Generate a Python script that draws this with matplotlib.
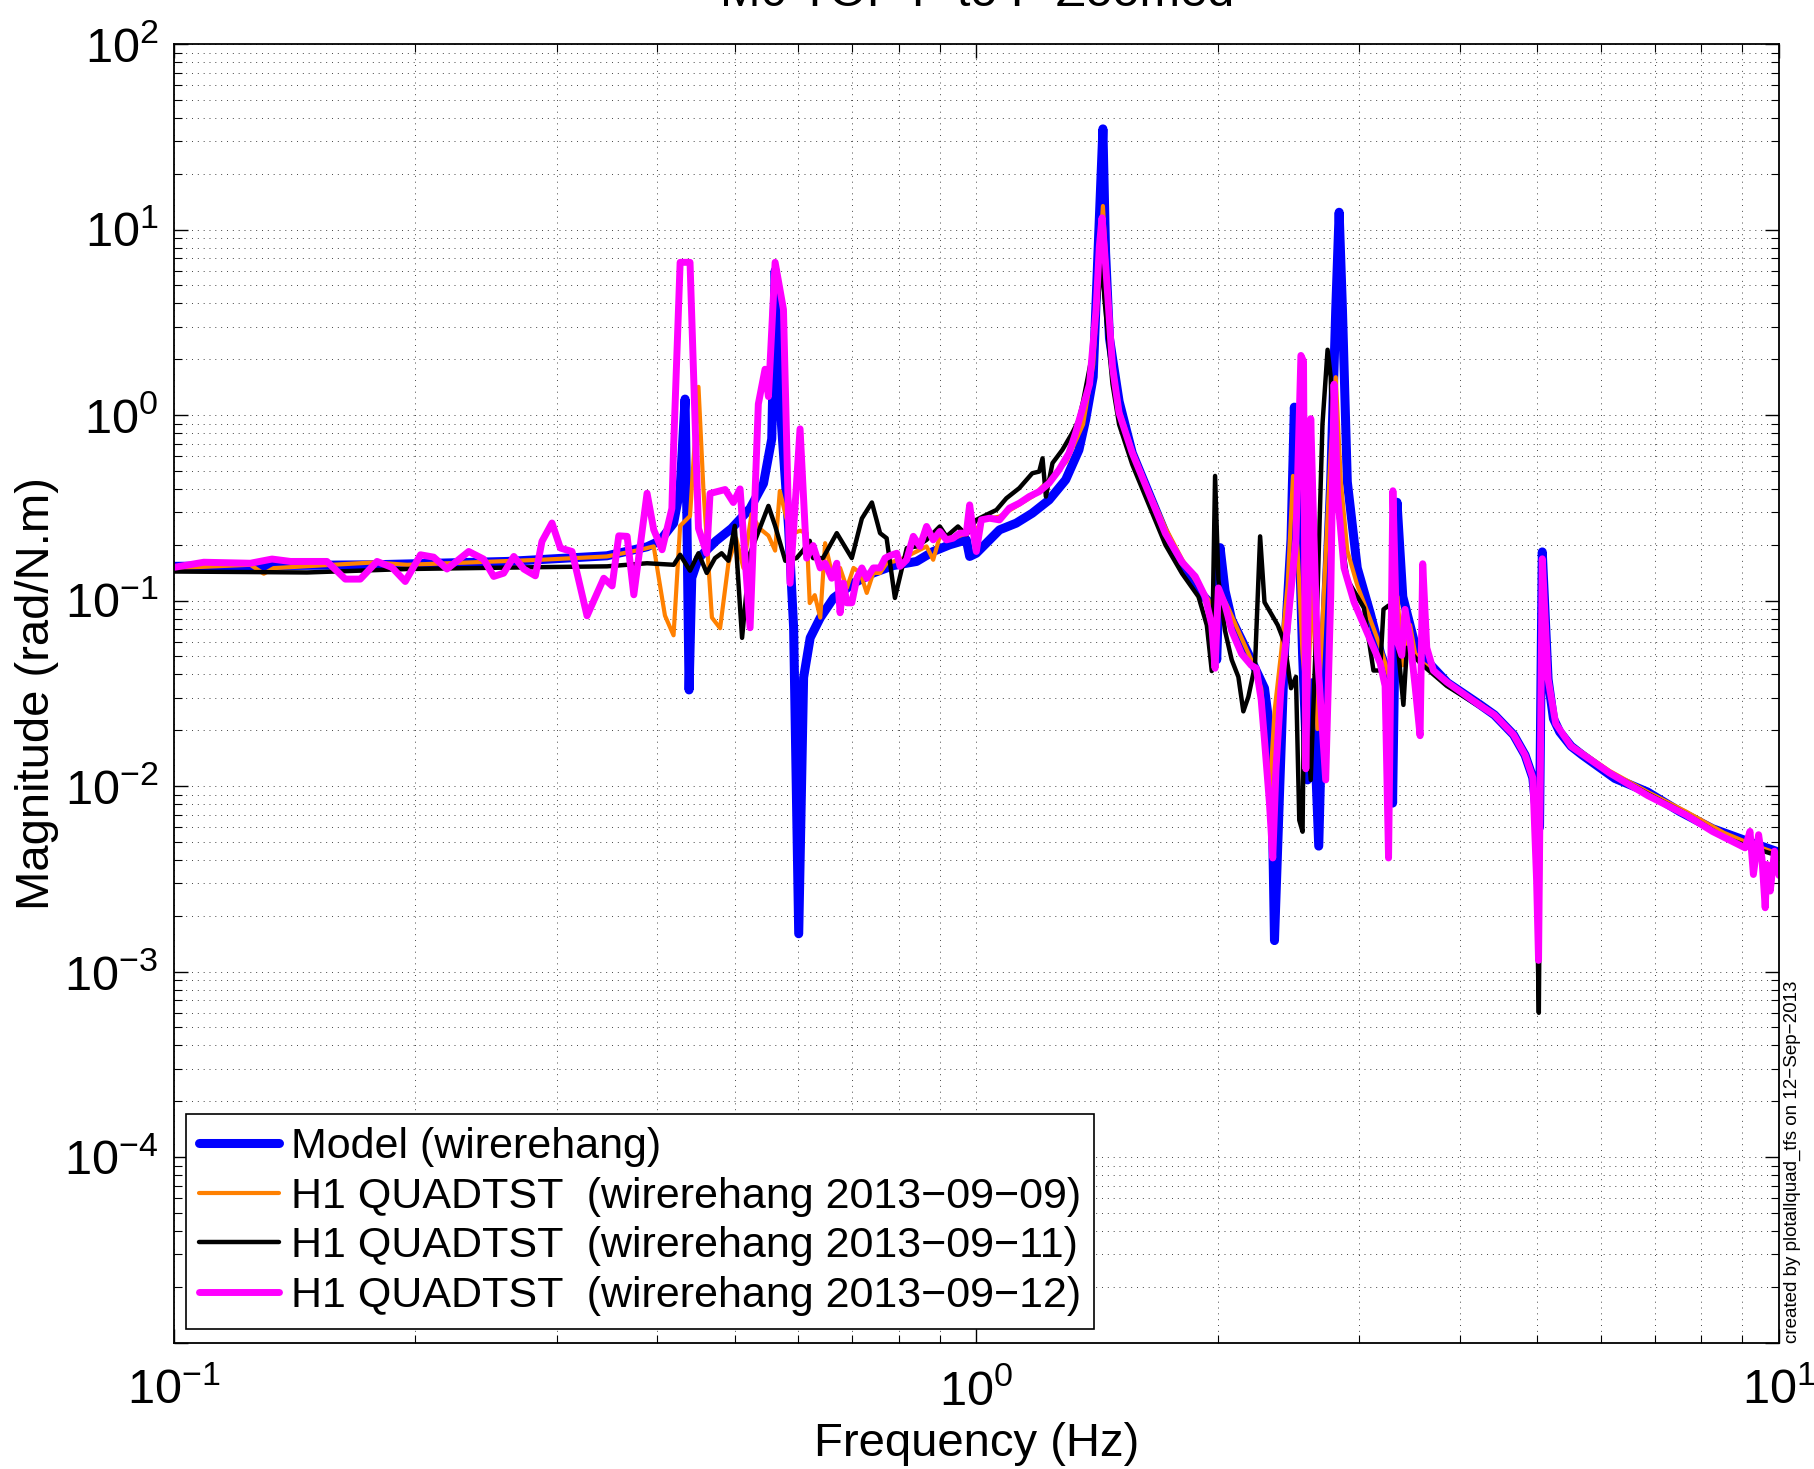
"""Bode magnitude: M0 TOP P to P (model vs. measured), recreated with matplotlib."""

import matplotlib

matplotlib.use("Agg")
import matplotlib.pyplot as plt

# ---- data -----------------------------------------------------------------
model_f = [0.1, 0.1776, 0.2604, 0.3465, 0.3888, 0.4034, 0.4195, 0.4275, 0.4336, 0.4357,
           0.4386, 0.442, 0.4506, 0.474, 0.4955, 0.5225, 0.543, 0.556, 0.5614, 0.5694,
           0.5836, 0.592, 0.6007, 0.6092, 0.6208, 0.639, 0.664, 0.703, 0.744, 0.788,
           0.8424, 0.8835, 0.9265, 0.9716, 0.9809, 0.9998, 1.029, 1.0686, 1.121, 1.174,
           1.232, 1.292, 1.342, 1.368, 1.398, 1.4175, 1.4376, 1.4486, 1.465, 1.5059,
           1.564, 1.64, 1.72, 1.804, 1.891, 1.9645, 1.9928, 2.012, 2.0408, 2.08,
           2.182, 2.2853, 2.3294, 2.3517, 2.385, 2.4196, 2.466, 2.4896, 2.513, 2.549,
           2.5853, 2.6223, 2.67, 2.7079, 2.7633, 2.8035, 2.831, 2.858, 2.898, 2.982,
           3.0962, 3.19, 3.2846, 3.30, 3.342, 3.398, 3.5135, 3.685, 3.862, 4.24,
           4.42, 4.67, 4.826, 4.934, 4.988, 5.03, 5.07, 5.155, 5.235, 5.33,
           5.507, 5.689, 6.245, 6.855, 7.52, 8.26, 9.07, 10.0]
model_mag = [0.153, 0.156, 0.1626, 0.1744, 0.195, 0.21, 0.261, 0.402, 1.22, 0.314,
             0.033, 0.1325, 0.1695, 0.21, 0.245, 0.314, 0.428, 0.745, 6.0, 1.147,
             0.245, 0.0714, 0.0016, 0.0385, 0.063, 0.0808, 0.1034, 0.124, 0.141, 0.1545,
             0.1626, 0.184, 0.2, 0.2126, 0.173, 0.18, 0.204, 0.2406, 0.2615, 0.296,
             0.349, 0.448, 0.649, 0.942, 1.604, 7.55, 34.9, 7.55, 2.59, 1.186,
             0.624, 0.379, 0.230, 0.150, 0.113, 0.0946, 0.048, 0.193, 0.113, 0.079,
             0.0516, 0.0337, 0.0177, 0.00147, 0.0087, 0.0516, 0.2146, 1.104, 0.4375, 0.0516,
             0.0108, 0.0361, 0.00475, 0.0516, 0.4375, 3.70, 12.4, 3.70, 0.4375, 0.150,
             0.085, 0.0516, 0.0361, 0.0081, 0.339, 0.105, 0.0596, 0.0448, 0.0361, 0.0275,
             0.0242, 0.0189, 0.0147, 0.0111, 0.007, 0.006, 0.183, 0.0377, 0.0231, 0.0196,
             0.0164, 0.0147, 0.011, 0.0093, 0.0073, 0.0059, 0.0051, 0.0044]

meas0909_f = [0.1, 0.1246, 0.1295, 0.1332, 0.1776, 0.1953, 0.2866, 0.3465, 0.3813, 0.3963,
              0.4025, 0.4093, 0.4195, 0.4275, 0.4398, 0.446, 0.4506, 0.457, 0.4683, 0.4794,
              0.491, 0.502, 0.5126, 0.5246, 0.537, 0.5507, 0.5614, 0.569, 0.580, 0.592,
              0.603, 0.6145, 0.620, 0.629, 0.639, 0.648, 0.6604, 0.6764, 0.6896, 0.703,
              0.7167, 0.7302, 0.744, 0.7586, 0.773, 0.8034, 0.8424, 0.8668, 0.8835, 0.9004,
              0.9265, 0.9716, 0.9998, 1.019, 1.0686, 1.177, 1.2945, 1.358, 1.398, 1.423,
              1.4376, 1.4502, 1.4778, 1.506, 1.564, 1.64, 1.72, 1.804, 1.891, 1.947,
              1.983, 2.002, 2.06, 2.12, 2.2, 2.264, 2.296, 2.318, 2.352, 2.396,
              2.442, 2.48, 2.513, 2.549, 2.585, 2.622, 2.66, 2.708, 2.763, 2.8035,
              2.845, 2.898, 2.982, 3.096, 3.19, 3.268, 3.3, 3.347, 3.398, 3.44,
              3.47, 3.52, 3.6, 3.71, 3.855, 4.24, 4.42, 4.67, 4.826, 4.934,
              4.988, 5.016, 5.07, 5.155, 5.27, 5.507, 6.145, 6.859, 7.654, 8.54,
              9.2, 10.0]
meas0909_mag = [0.1497, 0.156, 0.1396, 0.1497, 0.1606, 0.156, 0.166, 0.173, 0.188, 0.196,
                0.129, 0.083, 0.065, 0.253, 0.286, 0.745, 1.42, 0.40, 0.081, 0.071,
                0.159, 0.217, 0.15, 0.292, 0.245, 0.224, 0.186, 0.39, 0.277, 0.231,
                0.238, 0.231, 0.097, 0.107, 0.081, 0.204, 0.141, 0.15, 0.117, 0.15,
                0.141, 0.11, 0.141, 0.141, 0.159, 0.166, 0.184, 0.196, 0.166, 0.222,
                0.2126, 0.231, 0.2406, 0.2724, 0.284, 0.366, 0.561, 0.891, 1.87, 6.5,
                13.4, 7.0, 1.96, 1.07, 0.648, 0.393, 0.247, 0.167, 0.121, 0.101,
                0.055, 0.117, 0.0912, 0.0687, 0.048, 0.0337, 0.0143, 0.0087, 0.0253, 0.0516,
                0.121, 0.47, 0.186, 0.0516, 0.0253, 0.150, 0.0203, 0.105, 0.624, 1.6,
                0.4375, 0.186, 0.121, 0.079, 0.0555, 0.0388, 0.0687, 0.105, 0.0448, 0.0557,
                0.074, 0.052, 0.046, 0.042, 0.0364, 0.0278, 0.0245, 0.0192, 0.015, 0.0113,
                0.004, 0.0015, 0.165, 0.038, 0.022, 0.0167, 0.0121, 0.0093, 0.0073, 0.0056,
                0.0049, 0.0043]

meas0911_f = [0.1, 0.1466, 0.1952, 0.2865, 0.3465, 0.3888, 0.4197, 0.4275, 0.4398, 0.4506,
              0.4614, 0.4725, 0.4815, 0.491, 0.5, 0.5106, 0.5225, 0.5507, 0.5614, 0.578,
              0.597, 0.608, 0.620, 0.626, 0.644, 0.67, 0.6995, 0.72, 0.741, 0.7586,
              0.773, 0.7916, 0.819, 0.8425, 0.8668, 0.9004, 0.9177, 0.9486, 0.9716, 0.9998,
              1.029, 1.059, 1.0898, 1.131, 1.174, 1.1975, 1.209, 1.2206, 1.244, 1.2796,
              1.316, 1.3415, 1.358, 1.398, 1.423, 1.434, 1.4435, 1.4778, 1.5059, 1.564,
              1.64, 1.72, 1.804, 1.891, 1.9368, 1.9645, 1.9832, 2.0022, 2.0408, 2.08,
              2.1203, 2.1507, 2.182, 2.224, 2.2567, 2.2853, 2.3294, 2.374, 2.4196, 2.466,
              2.501, 2.525, 2.549, 2.561, 2.6094, 2.66, 2.6987, 2.7386, 2.7633, 2.79,
              2.898, 3.04, 3.124, 3.184, 3.215, 3.262, 3.324, 3.404, 3.438, 3.571,
              3.855, 4.24, 4.42, 4.67, 4.826, 4.934, 4.988, 5.02, 5.07, 5.155,
              5.27, 5.507, 6.145, 6.859, 7.654, 8.54, 9.2, 10.0]
meas0911_mag = [0.1435, 0.1418, 0.148, 0.1515, 0.153, 0.159, 0.156, 0.1766, 0.145, 0.180,
                0.141, 0.1695, 0.180, 0.164, 0.253, 0.063, 0.180, 0.324, 0.253, 0.164,
                0.1695, 0.186, 0.21, 0.1695, 0.1695, 0.231, 0.1695, 0.277, 0.338, 0.231,
                0.217, 0.1034, 0.192, 0.196, 0.2126, 0.251, 0.2216, 0.251, 0.226, 0.2724,
                0.29, 0.308, 0.356, 0.404, 0.486, 0.496, 0.585, 0.364, 0.551, 0.649,
                0.798, 0.942, 1.186, 2.25, 4.93, 7.55, 4.27, 1.467, 0.891, 0.5415,
                0.329, 0.1998, 0.14, 0.105, 0.0737, 0.0417, 0.47, 0.130, 0.0687, 0.048,
                0.0388, 0.0253, 0.0303, 0.0448, 0.222, 0.098, 0.085, 0.0737, 0.0596, 0.0337,
                0.0388, 0.00655, 0.00568, 0.0361, 0.0108, 0.105, 0.891, 2.25, 1.604, 0.4375,
                0.130, 0.0912, 0.042, 0.042, 0.0897, 0.094, 0.0815, 0.0274, 0.0557, 0.0461,
                0.0347, 0.0268, 0.024, 0.0186, 0.0145, 0.011, 0.003, 0.0006, 0.16, 0.0377,
                0.0217, 0.0165, 0.0119, 0.0091, 0.0071, 0.0053, 0.0047, 0.0042]

meas0912_f = [0.1, 0.109, 0.1246, 0.1326, 0.1398, 0.1552, 0.1636, 0.1708, 0.1792, 0.187,
              0.1943, 0.203, 0.2108, 0.219, 0.2331, 0.2432, 0.2504, 0.2577, 0.2653, 0.273,
              0.2822, 0.2876, 0.296, 0.3032, 0.3135, 0.3273, 0.3434, 0.3517, 0.3585, 0.3672,
              0.3743, 0.3888, 0.3963, 0.4059, 0.4175, 0.4195, 0.4275, 0.4398, 0.4506, 0.4614,
              0.4658, 0.4864, 0.498, 0.5077, 0.5225, 0.535, 0.5454, 0.5507, 0.5614, 0.575,
              0.586, 0.603, 0.6145, 0.626, 0.639, 0.648, 0.6604, 0.67, 0.6764, 0.683,
              0.6896, 0.6995, 0.7096, 0.72, 0.7302, 0.744, 0.7586, 0.7696, 0.781, 0.7959,
              0.8034, 0.8188, 0.8345, 0.8505, 0.8668, 0.8835, 0.9004, 0.9177, 0.9353, 0.9533,
              0.9716, 0.9809, 0.9903, 0.9998, 1.0142, 1.0386, 1.0686, 1.0994, 1.131, 1.164,
              1.1975, 1.232, 1.2676, 1.304, 1.329, 1.3445, 1.3835, 1.4097, 1.423, 1.434,
              1.4502, 1.4778, 1.5059, 1.564, 1.64, 1.72, 1.804, 1.8733, 1.9275, 1.9645,
              1.9832, 2.0022, 2.0408, 2.08, 2.14, 2.2, 2.232, 2.2637, 2.2853, 2.318,
              2.34, 2.362, 2.3957, 2.442, 2.501, 2.537, 2.556, 2.5728, 2.597, 2.6094,
              2.6345, 2.66, 2.7238, 2.7633, 2.79, 2.817, 2.871, 2.955, 3.04, 3.184,
              3.23, 3.262, 3.303, 3.34, 3.388, 3.42, 3.47, 3.52, 3.571, 3.598,
              3.64, 3.71, 3.855, 4.24, 4.42, 4.67, 4.826, 4.934, 4.988, 5.016,
              5.07, 5.155, 5.27, 5.507, 6.145, 6.859, 7.654, 8.26, 8.54, 9.07,
              9.2, 9.29, 9.43, 9.52, 9.61, 9.66, 9.75, 9.87, 10.0]
meas0912_mag = [0.151, 0.161, 0.159, 0.1675, 0.1626, 0.1626, 0.1306, 0.1306, 0.1626, 0.151,
                0.1268, 0.1766, 0.1715, 0.148, 0.184, 0.1675, 0.135, 0.1406, 0.173, 0.148,
                0.136, 0.2084, 0.262, 0.192, 0.184, 0.0828, 0.132, 0.120, 0.2235, 0.222,
                0.1075, 0.379, 0.241, 0.188, 0.314, 0.659, 6.66, 6.66, 0.245, 0.180,
                0.378, 0.397, 0.338, 0.40, 0.0714, 1.147, 1.767, 1.259, 6.66, 3.71,
                0.124, 0.843, 0.1695, 0.198, 0.15, 0.159, 0.132, 0.159, 0.086, 0.124,
                0.0973, 0.0973, 0.132, 0.15, 0.132, 0.15, 0.15, 0.1695, 0.175, 0.180,
                0.153, 0.166, 0.222, 0.196, 0.251, 0.2126, 0.2358, 0.2126, 0.217, 0.231,
                0.231, 0.328, 0.2406, 0.184, 0.2724, 0.278, 0.2724, 0.315, 0.335, 0.364,
                0.387, 0.43, 0.507, 0.623, 0.798, 0.957, 1.467, 3.70, 8.11, 11.57,
                6.1, 1.817, 1.028, 0.624, 0.379, 0.230, 0.161, 0.135, 0.105, 0.0737,
                0.0432, 0.117, 0.0946, 0.0687, 0.0516, 0.0448, 0.0432, 0.0292, 0.0177, 0.0081,
                0.0041, 0.0124, 0.0337, 0.0737, 0.2146, 2.096, 1.951, 0.0124, 0.2146, 0.957,
                0.2146, 0.0516, 0.0108, 0.105, 1.467, 0.379, 0.150, 0.098, 0.0737, 0.0461,
                0.0347, 0.0041, 0.391, 0.0613, 0.0507, 0.0897, 0.0613, 0.0347, 0.0187, 0.158,
                0.0557, 0.042, 0.0364, 0.0272, 0.0242, 0.0189, 0.0147, 0.0111, 0.0031, 0.00115,
                0.168, 0.0377, 0.0217, 0.0164, 0.0118, 0.0089, 0.007, 0.0057, 0.0053, 0.00465,
                0.0057, 0.00334, 0.00547, 0.0041, 0.00221, 0.00378, 0.00272, 0.00446, 0.0033]

series_labels = [
    "Model (wirerehang)",
    "H1 QUADTST  (wirerehang 2013\u221209\u221209)",
    "H1 QUADTST  (wirerehang 2013\u221209\u221211)",
    "H1 QUADTST  (wirerehang 2013\u221209\u221212)",
]
y_ticks = [1e-5, 1e-4, 1e-3, 1e-2, 1e-1, 1e0, 1e1, 1e2]
y_tick_labels = ["", r"$\mathdefault{10^{-4}}$", r"$\mathdefault{10^{-3}}$",
                 r"$\mathdefault{10^{-2}}$", r"$\mathdefault{10^{-1}}$",
                 r"$\mathdefault{10^{0}}$", r"$\mathdefault{10^{1}}$",
                 r"$\mathdefault{10^{2}}$"]
x_ticks = [0.1, 1.0, 10.0]
x_tick_labels = [r"$\mathdefault{10^{-1}}$", r"$\mathdefault{10^{0}}$",
                 r"$\mathdefault{10^{1}}$"]

# ---- style ---------------------------------------------------------------
plt.rcParams["font.family"] = ["Liberation Sans", "DejaVu Sans"]
plt.rcParams["mathtext.fontset"] = "custom"
plt.rcParams["mathtext.rm"] = "Liberation Sans"
plt.rcParams["mathtext.it"] = "Liberation Sans:italic"
plt.rcParams["mathtext.bf"] = "Liberation Sans:bold"

fig = plt.figure(figsize=(18.15, 14.69), dpi=100)
ax = fig.add_axes([0.0957, 0.0860, 0.8845, 0.8840])

line_kw = dict(solid_joinstyle="round", solid_capstyle="round")
ax.plot(model_f, model_mag, color="#0000FF", lw=6.5, label=series_labels[0], **line_kw)
ax.plot(meas0909_f, meas0909_mag, color="#FF8000", lw=3.0, label=series_labels[1], **line_kw)
ax.plot(meas0911_f, meas0911_mag, color="black", lw=3.2, label=series_labels[2], **line_kw)
ax.plot(meas0912_f, meas0912_mag, color="#FF00FF", lw=5.0, label=series_labels[3], **line_kw)

ax.set_xscale("log")
ax.set_yscale("log")
ax.set_xlim(0.1, 10)
ax.set_ylim(1e-5, 1e2)
ax.set_xticks(x_ticks, x_tick_labels)
ax.set_yticks(y_ticks, y_tick_labels)

ax.tick_params(which="both", direction="in", top=True, right=True)
ax.tick_params(which="major", length=10, width=1.0, labelsize=35)
ax.tick_params(axis="y", which="major", pad=11)
ax.tick_params(axis="x", which="major", pad=19)
ax.tick_params(which="minor", length=6, width=0.8)
for sp in ax.spines.values():
    sp.set_linewidth(1.3)

ax.grid(True, which="both", linestyle=(0, (1, 5)), linewidth=0.7, color="#444444")
ax.set_axisbelow(True)

ax.set_xlabel("Frequency (Hz)", fontsize=34, labelpad=5)
ax.set_ylabel("Magnitude (rad/N.m)", fontsize=34, labelpad=4)

leg = ax.legend(loc="lower left", bbox_to_anchor=(0.0077, 0.0108), borderaxespad=0,
                fontsize=31, handlelength=1.85, handletextpad=0.28, labelspacing=0.22,
                borderpad=0.3, fancybox=False, framealpha=1, edgecolor="black")
leg.get_frame().set_linewidth(1.2)

fig.text(0.5385, 1 - 6 / 1469, "M0 TOP P to P Zoomed", ha="center", va="baseline",
         fontsize=35)
fig.text(0.9873, 1 - 1343 / 1469, "created by plotallquad_tfs on 12\u2212Sep\u22122013",
         rotation=90, ha="center", va="bottom", fontsize=13.5)

fig.savefig("out.png", dpi=100)
